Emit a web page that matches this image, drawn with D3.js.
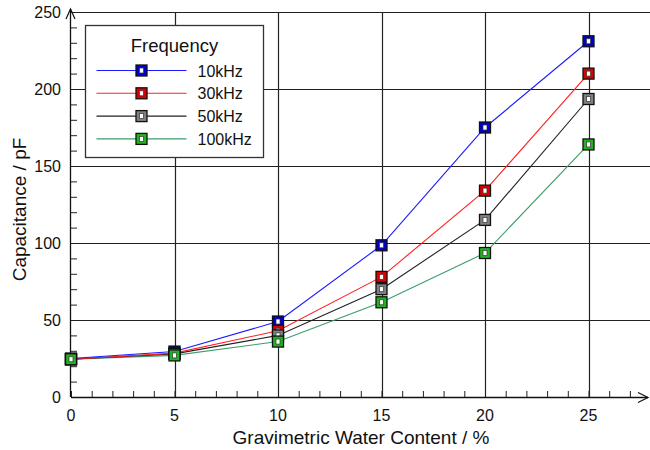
<!DOCTYPE html>
<html>
<head>
<meta charset="utf-8">
<script src="https://cdn.jsdelivr.net/npm/d3@7"></script>
<style>
    body { margin: 0; background: #fff; }
    svg text { font-family: "Liberation Sans", Arial, sans-serif; fill: #111; }
</style>
</head>
<body>
<div id="chart"></div>
<script>

// water content (%)
let waterContent = [0, 5, 10, 15, 20, 25];

let seriesNames = ['10kHz', '30kHz', '50kHz', '100kHz'];

// capacitance (pF)
let cap10k  = [25, 29.5, 49, 98.5, 175, 231];
let cap30k  = [24.5, 28.5, 43, 78, 134, 210];
let cap50k  = [24.5, 28, 40, 70, 115, 193.5];
let cap100k = [24.5, 27, 36, 61.5, 93.5, 164];

let lineColors   = ['#1a1aff', '#ff2020', '#222222', '#3c9c6c'];
let markerColors = ['#0000cc', '#dd0000', '#808080', '#22b322'];

let xTicks = [0, 5, 10, 15, 20, 25];
let yTicks = [0, 50, 100, 150, 200, 250];

let xLabel = 'Gravimetric Water Content / %';
let yLabel = 'Capacitance / pF';
let legendTitle = 'Frequency';


let outerWidth = 650;
let outerHeight = 450;
let margin = {'top': 12, 'left': 71, 'right': 0, 'bottom': 53};

let width = outerWidth - margin.left - margin.right;
let height = outerHeight - margin.top - margin.bottom;

let svg = d3.select('#chart').append('svg')
            .attr('width', outerWidth)
            .attr('height', outerHeight);

let g = svg.append('g')
           .attr('transform', `translate(${margin.left}, ${margin.top})`);

// scales: 25 % at x=588, axis runs on to ~28
let x = d3.scaleLinear().domain([0, 25]).range([0, 517.5]);
let y = d3.scaleLinear().domain([0, 250]).range([height, 0]);

let xEnd = 577;

// grid
g.append('g').selectAll('line')
    .data(xTicks.filter(d => d > 0))
    .join('line')
    .attr('x1', d => Math.round(x(d)) + 0.5)
    .attr('x2', d => Math.round(x(d)) + 0.5)
    .attr('y1', y(0))
    .attr('y2', y(250))
    .attr('stroke', '#222')
    .attr('stroke-width', 1.2);

g.append('g').selectAll('line')
    .data(yTicks.filter(d => d > 0))
    .join('line')
    .attr('x1', 0)
    .attr('x2', width)
    .attr('y1', d => Math.round(y(d)) + 0.5)
    .attr('y2', d => Math.round(y(d)) + 0.5)
    .attr('stroke', '#222')
    .attr('stroke-width', 1.2);

// axes (ticks pointing inward)
let xAxis = d3.axisTop(x)
    .tickValues(d3.range(0, 28, 1))
    .tickSize(6)
    .tickFormat('');

let gx = g.append('g')
    .attr('transform', `translate(0, ${height})`)
    .call(xAxis);
gx.select('.domain').remove();
gx.selectAll('line').attr('stroke', '#222');

let yAxis = d3.axisRight(y)
    .tickValues(d3.range(0, 251, 10))
    .tickSize(6)
    .tickFormat('');

let gy = g.append('g').call(yAxis);
gy.select('.domain').remove();
gy.selectAll('line').attr('stroke', '#222');

// axis lines with open arrow heads
g.append('line')
    .attr('x1', 0).attr('x2', xEnd)
    .attr('y1', height + 0.5).attr('y2', height + 0.5)
    .attr('stroke', '#111').attr('stroke-width', 1.3);
g.append('path')
    .attr('d', `M${xEnd - 10},${height - 4.5} L${xEnd},${height + 0.5} L${xEnd - 10},${height + 5.5}`)
    .attr('fill', 'none').attr('stroke', '#111').attr('stroke-width', 1.2);

g.append('line')
    .attr('x1', -0.5).attr('x2', -0.5)
    .attr('y1', height).attr('y2', -3)
    .attr('stroke', '#111').attr('stroke-width', 1.3);
g.append('path')
    .attr('d', `M-5,7 L-0.5,-3 L4,7`)
    .attr('fill', 'none').attr('stroke', '#111').attr('stroke-width', 1.2);

// tick labels
g.append('g').selectAll('text')
    .data(xTicks)
    .join('text')
    .attr('x', d => x(d))
    .attr('y', height + 24)
    .attr('text-anchor', 'middle')
    .style('font-size', '16px')
    .text(d => d);

g.append('g').selectAll('text')
    .data(yTicks)
    .join('text')
    .attr('x', -10)
    .attr('y', d => y(d) + 6)
    .attr('text-anchor', 'end')
    .style('font-size', '16px')
    .text(d => d);

// axis titles
g.append('text')
    .attr('x', 290)
    .attr('y', height + 47)
    .attr('text-anchor', 'middle')
    .style('font-size', '19px')
    .text(xLabel);

g.append('text')
    .attr('transform', `translate(${-45}, ${y(125) + 5}) rotate(-90)`)
    .attr('text-anchor', 'middle')
    .style('font-size', '19px')
    .text(yLabel);

// series
let series = [cap10k, cap30k, cap50k, cap100k].map(function(vals, i){
    return {
        'name': seriesNames[i],
        'line': lineColors[i],
        'marker': markerColors[i],
        'values': vals.map((v, j) => ({'x': waterContent[j], 'y': v}))
    };
});

let line = d3.line()
    .x(d => x(d.x))
    .y(d => y(d.y));

function drawMarker(sel, fill){
    sel.append('rect')
        .attr('x', -5.5).attr('y', -5.5)
        .attr('width', 11).attr('height', 11)
        .attr('fill', fill)
        .attr('stroke', '#111')
        .attr('stroke-width', 1.3);
    sel.append('rect')
        .attr('x', -2).attr('y', -2.5)
        .attr('width', 4).attr('height', 5)
        .attr('fill', '#fff')
        .attr('stroke', '#333')
        .attr('stroke-width', 0.7);
}

// draw back-to-front so 10kHz lies on top at the crowded start
series.slice().reverse().forEach(function(s){
    g.append('path')
        .datum(s.values)
        .attr('d', line)
        .attr('fill', 'none')
        .attr('stroke', s.line)
        .attr('stroke-width', 1.1);
});

series.forEach(function(s){
    g.append('g').selectAll('g')
        .data(s.values)
        .join('g')
        .attr('transform', d => `translate(${x(d.x)}, ${y(d.y)})`)
        .each(function(){ drawMarker(d3.select(this), s.marker); });
});

// legend
let legend = svg.append('g').attr('transform', 'translate(85.5, 25.5)');

legend.append('rect')
    .attr('width', 178)
    .attr('height', 132)
    .attr('fill', '#fff')
    .attr('stroke', '#333')
    .attr('stroke-width', 1.3);

legend.append('text')
    .attr('x', 89)
    .attr('y', 26)
    .attr('text-anchor', 'middle')
    .style('font-size', '18.5px')
    .text(legendTitle);

let rows = legend.selectAll('.row')
    .data(series)
    .join('g')
    .attr('class', 'row')
    .attr('transform', (d, i) => `translate(0, ${45 + i * 22.8})`);

rows.append('line')
    .attr('x1', 11).attr('x2', 101)
    .attr('stroke', d => d.line)
    .attr('stroke-width', 1.1);

rows.append('g')
    .attr('transform', 'translate(56, 0)')
    .each(function(d){ drawMarker(d3.select(this), d.marker); });

rows.append('text')
    .attr('x', 112)
    .attr('y', 6)
    .style('font-size', '16px')
    .text(d => d.name);

</script>
</body>
</html>
